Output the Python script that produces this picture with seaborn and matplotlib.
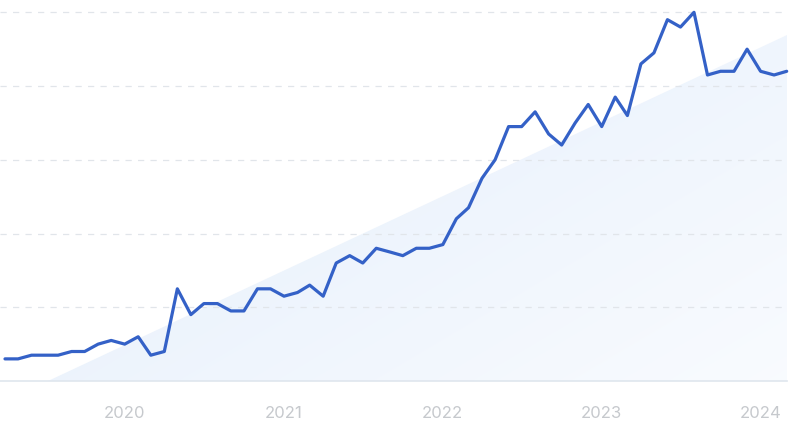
import numpy as np
import pandas as pd
import matplotlib
matplotlib.use("Agg")
import matplotlib.pyplot as plt
from matplotlib.patches import Polygon
import seaborn as sns

# monthly interest index, Apr 2019 .. Mar 2024
start_month = "2019-04-01"
values = [6, 6, 7, 7, 7, 8, 8, 10, 11, 10,
          12, 7, 8, 25, 18, 21, 21, 19, 19, 25,
          25, 23, 24, 26, 23, 32, 34, 32, 36, 35,
          34, 36, 36, 37, 44, 47, 55, 60, 69, 69,
          73, 67, 64, 70, 75, 69, 77, 72, 86, 89,
          98, 96, 100, 83, 84, 84, 90, 84, 83, 84]
year_labels = ["2020", "2021", "2022", "2023", "2024"]
grid_levels = [20, 40, 60, 80, 100]

df = pd.DataFrame({
    "month": pd.date_range(start_month, periods=len(values), freq="MS"),
    "value": values,
})

sns.set_style("white")
plt.rcParams["font.family"] = ["Inter", "DejaVu Sans"]

fig = plt.figure(figsize=(7.9, 4.23), dpi=100)
ax = fig.add_axes([0.0, 1 - 381 / 423, 787 / 790, 381 / 423])

# soft gradient triangle in the background
tri = Polygon([(48 / 787, 0), (1, 1 - 35 / 381), (1, 0)], closed=True,
              transform=ax.transAxes, facecolor="none", edgecolor="none")
ax.add_patch(tri)
u, v = np.meshgrid(np.linspace(0, 1, 200), np.linspace(1, 0, 200))
t = np.clip(0.55 * u + 0.45 * (1 - v), 0, 1)
c0 = np.array([0.885, 0.928, 0.985])
c1 = np.array([0.975, 0.985, 0.998])
img = c0[None, None, :] * (1 - t[..., None]) + c1[None, None, :] * t[..., None]
im = ax.imshow(img, extent=[0, 1, 0, 1], transform=ax.transAxes,
               aspect="auto", zorder=0, interpolation="bilinear")
im.set_clip_path(tri)

for lv in grid_levels:
    ax.axhline(lv, color="#e1e5ea", lw=0.9, ls=(0, (5, 5)), zorder=1)

sns.lineplot(data=df, x="month", y="value", ax=ax, color="#3461c7",
             linewidth=2.3, zorder=3, clip_on=False)

days = (df["month"].iloc[-1] - df["month"].iloc[0]).days
px_per_day = 782 / days
ax.set_xlim(df["month"].iloc[0] - pd.Timedelta(days=5 / px_per_day),
            df["month"].iloc[-1] + pd.Timedelta(days=0.3 / px_per_day))
ax.set_ylim(0, 381 / 3.687)

ticks = pd.to_datetime([f"{y}-01-01" for y in year_labels])
ax.set_xticks(ticks)
ax.set_xticklabels(year_labels)
ax.set_yticks([])
ax.set_xlabel("")
ax.set_ylabel("")
ax.tick_params(axis="x", length=0, pad=18, labelsize=12, labelcolor="#c6c9cd")

for side in ["top", "left", "right"]:
    ax.spines[side].set_visible(False)
ax.spines["bottom"].set_color("#dfe6ee")
ax.spines["bottom"].set_linewidth(1.2)

fig.savefig("out.png", dpi=100)
